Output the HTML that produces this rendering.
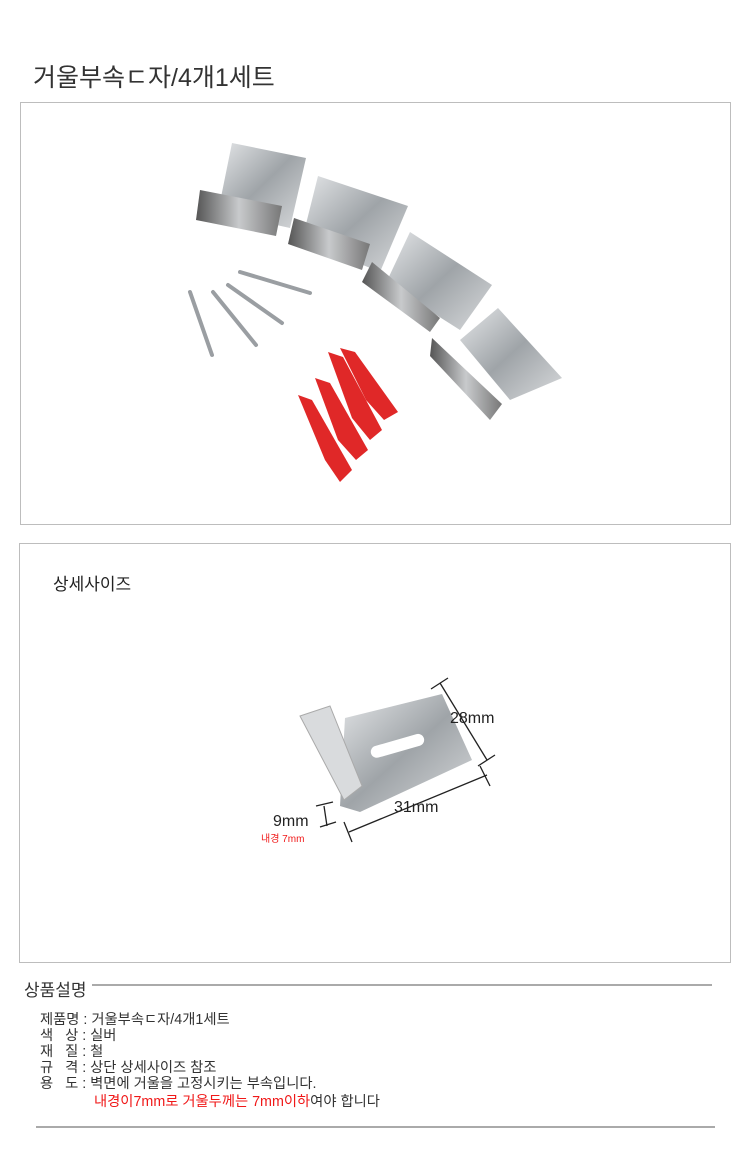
<!DOCTYPE html>
<html><head><meta charset="utf-8"><style>
body{margin:0;width:750px;height:1167px;background:#fff;position:relative;font-family:"Liberation Sans","Noto Sans CJK KR",sans-serif;color:#333;overflow:hidden}
.a{position:absolute;white-space:nowrap}
.box{position:absolute;border:1px solid #bdbdbd;box-sizing:border-box}
.r{color:#f01818}
</style></head><body>
<div class="a" style="left:33px;top:58px;font-size:25px;color:#333">거울부속ㄷ자/4개1세트</div>
<div class="box" style="left:20px;top:102px;width:711px;height:423px"></div>
<svg class="a" style="left:0;top:0" width="750" height="1167">
<defs><linearGradient id="m" x1="0" y1="0" x2="1" y2="1"><stop offset="0" stop-color="#e4e6e8"/><stop offset=".5" stop-color="#9fa4a8"/><stop offset="1" stop-color="#d8dadc"/></linearGradient>
<linearGradient id="d" x1="0" y1="0" x2="1" y2="0"><stop offset="0" stop-color="#555"/><stop offset=".5" stop-color="#c8cacc"/><stop offset="1" stop-color="#777"/></linearGradient></defs>
<polygon points="232,143 306,158 290,228 218,212" fill="url(#m)"/>
<polygon points="200,190 282,206 276,236 196,220" fill="url(#d)"/>
<polygon points="318,176 408,206 380,272 302,240" fill="url(#m)"/>
<polygon points="294,218 370,244 362,270 288,244" fill="url(#d)"/>
<polygon points="410,232 492,285 460,330 386,283" fill="url(#m)"/>
<polygon points="372,262 440,318 430,332 362,282" fill="url(#d)"/>
<polygon points="498,308 562,378 510,400 460,340" fill="url(#m)"/>
<polygon points="432,338 502,404 490,420 430,356" fill="url(#d)"/>
<g stroke="#9a9ea2" stroke-width="4" stroke-linecap="round">
<line x1="190" y1="292" x2="212" y2="355"/><line x1="213" y1="292" x2="256" y2="345"/>
<line x1="228" y1="285" x2="282" y2="323"/><line x1="240" y1="272" x2="310" y2="293"/></g>
<g fill="#e02828"><polygon points="298,395 312,400 352,470 340,482 325,460"/>
<polygon points="315,378 330,383 368,450 356,460 338,440"/>
<polygon points="328,352 343,357 382,430 370,440 352,418"/>
<polygon points="340,348 355,352 398,412 384,420 366,400"/></g>
</svg>
<div class="box" style="left:19px;top:543px;width:712px;height:420px"></div>
<div class="a" style="left:53px;top:570px;font-size:17px;color:#222">상세사이즈</div>
<svg class="a" style="left:0;top:0" width="750" height="1167">
<polygon points="345,718 442,694 472,760 360,812 340,806" fill="url(#m)"/>
<polygon points="300,716 330,706 362,786 344,800" fill="#d9dbdd" stroke="#aaa"/>
<rect x="370" y="740" width="55" height="12" rx="6" fill="#fff" transform="rotate(-16 397 746)"/>
<g stroke="#222" stroke-width="1.3" fill="none">
<line x1="440" y1="683" x2="487" y2="760"/><line x1="431" y1="689" x2="448" y2="678"/><line x1="478" y1="766" x2="495" y2="755"/>
<line x1="349" y1="832" x2="487" y2="775"/><line x1="344" y1="822" x2="352" y2="842"/><line x1="480" y1="766" x2="490" y2="786"/>
<line x1="324" y1="806" x2="327" y2="826"/><line x1="316" y1="806" x2="333" y2="802"/><line x1="320" y1="827" x2="336" y2="822"/>
</g>
</svg>
<div class="a" style="left:450px;top:710px;font-size:16px;color:#222">28mm</div>
<div class="a" style="left:394px;top:799px;font-size:16px;color:#222">31mm</div>
<div class="a" style="left:273px;top:813px;font-size:16px;color:#222">9mm</div>
<div class="a r" style="left:261px;top:830px;font-size:10px">내경 7mm</div>
<div class="a" style="left:24px;top:976px;font-size:17px;color:#333">상품설명</div>
<div class="a" style="left:92px;top:984px;width:620px;height:2px;background:#aaa"></div>
<div class="a" style="left:40px;top:1012px;font-size:14.3px;line-height:16px;color:#333">
제품명 : 거울부속ㄷ자/4개1세트<br>
색&nbsp;&nbsp;&nbsp;상 : 실버<br>
재&nbsp;&nbsp;&nbsp;질 : 철<br>
규&nbsp;&nbsp;&nbsp;격 : 상단 상세사이즈 참조<br>
용&nbsp;&nbsp;&nbsp;도 : 벽면에 거울을 고정시키는 부속입니다.<br>
<span style="position:relative;top:2px;padding-left:54px"><span class="r">내경이7mm로 거울두께는 7mm이하</span>여야 합니다</span></div>
<div class="a" style="left:36px;top:1126px;width:679px;height:2px;background:#aaa"></div>
</body></html>
